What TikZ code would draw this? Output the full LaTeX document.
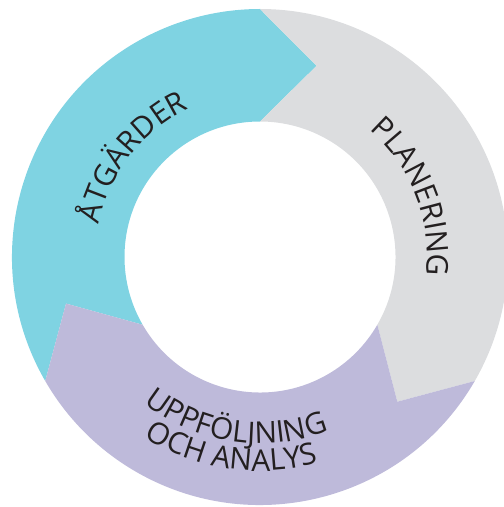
\documentclass[tikz,border=0pt]{standalone}
\usepackage{fontspec}
\setmainfont{Open Sans}
\usetikzlibrary{decorations.text}

\definecolor{segcyan}{RGB}{127,211,226}
\definecolor{seggray}{RGB}{220,221,223}
\definecolor{segpurple}{RGB}{190,186,218}
\definecolor{labelgray}{RGB}{35,31,32}

% ring geometry (pt)
\def\Ro{248}   % outer radius
\def\Ri{135.5} % inner radius
\def\Rt{199.5} % radius of the arrow tips
\def\dt{16.5}  % angular length of the arrow tips

\newcommand\labelfont{\fontsize{30}{32}\selectfont\color{labelgray}}

% one arrow-shaped ring segment: colour, tail angle, head angle (clockwise)
\newcommand\ringseg[3]{%
  \fill[#1] (#2:\Ro) arc[start angle=#2, end angle=#3, radius=\Ro]
    -- (#3-\dt:\Rt) -- (#3:\Ri)
    arc[start angle=#3, end angle=#2, radius=\Ri]
    -- (#2-\dt:\Rt) -- cycle;}

\tikzset{
  ringlabel/.style={decorate, decoration={text along path, text align=center,
    text={|\labelfont|#1}}}
}

\begin{document}
\begin{tikzpicture}[x=1pt,y=1pt]
  \useasboundingbox (0,0) rectangle (504,507);
  \begin{scope}[shift={(260,250)}]
    \ringseg{segcyan}{210}{90}
    \ringseg{seggray}{90}{-30}
    \ringseg{segpurple}{-30}{-150}

    % labels set along arcs around the centre
    \path[ringlabel={ÅTGÄRDER}] (182:164.5) arc[start angle=182, end angle=102, radius=164.5];
    \path[ringlabel={PLANERING}] (61.5:167.5) arc[start angle=61.5, end angle=-18.5, radius=167.5];
    \path[ringlabel={UPPFÖLJNING}] (-138.5:186.5) arc[start angle=-138.5, end angle=-58.5, radius=186.5];
    \path[ringlabel={OCH ANALYS}] (-138.5:214) arc[start angle=-138.5, end angle=-58.5, radius=214];
  \end{scope}
\end{tikzpicture}
\end{document}
